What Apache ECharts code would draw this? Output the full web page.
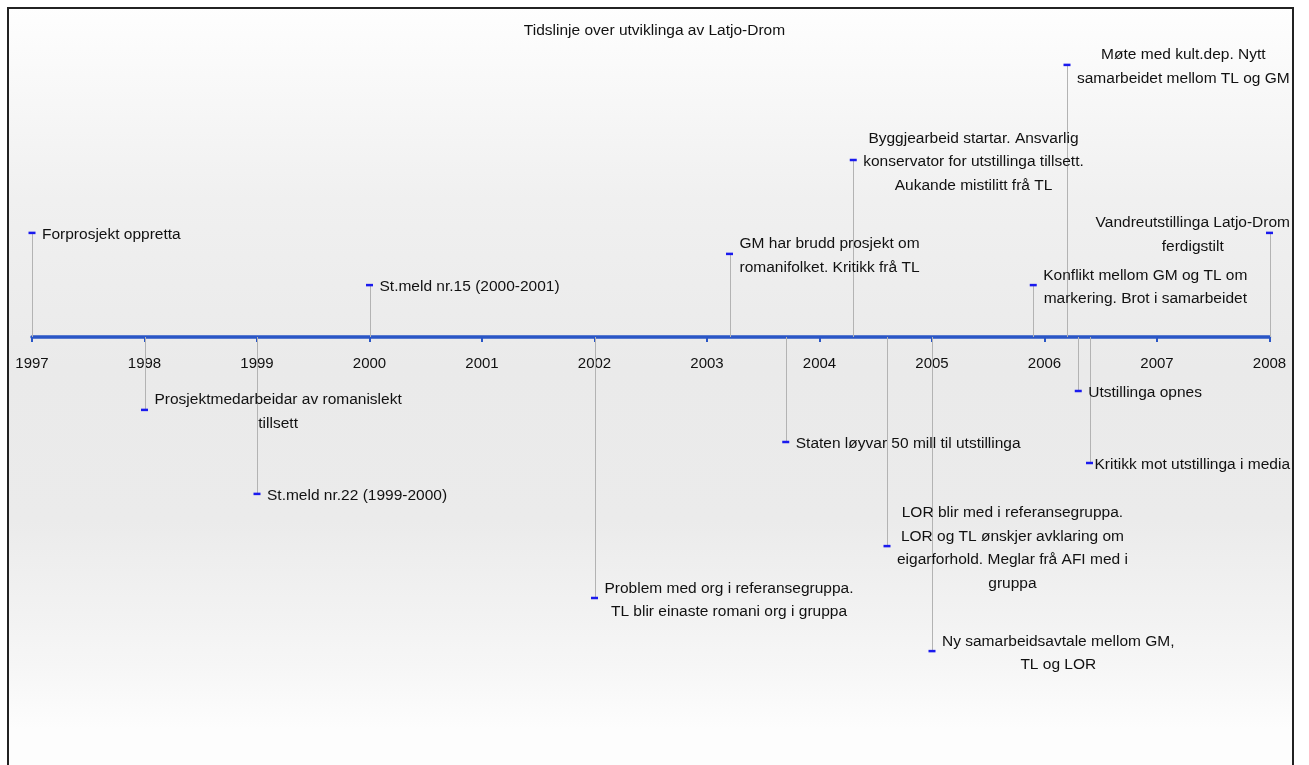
<!DOCTYPE html>
<html>
<head>
<meta charset="utf-8">
<script src="https://cdn.jsdelivr.net/npm/echarts@6/dist/echarts.min.js"></script>
<style>
  html, body { margin: 0; padding: 0; background: #fff; }
  #chart { width: 1309px; height: 765px; }
</style>
</head>
<body>
<div id="chart"></div>
<script>
// tick labels on the time line
var years = ['1997', '1998', '1999', '2000', '2001', '2002', '2003', '2004', '2005', '2006', '2007', '2008']

// when each event happened (decimal year)
var eventDates = [1997.0, 1998.0, 1999.0, 2000.0, 2002.0, 2003.2, 2003.7, 2004.3, 2004.6, 2005.0, 2005.9, 2006.2, 2006.3, 2006.4, 2008.0]

// how high the marker sits above (+) or below (-) the line
var eventHeights = [3.47, -2.43, -5.23, 1.73, -8.7, 2.77, -3.5, 5.9, -6.97, -10.47, 1.73, 9.07, -1.8, -4.2, 3.47]

var eventTexts = [
  'Forprosjekt oppretta',
  'Prosjektmedarbeidar av romanislekt\ntillsett',
  'St.meld nr.22 (1999-2000)',
  'St.meld nr.15 (2000-2001)',
  'Problem med org i referansegruppa.\nTL blir einaste romani org i gruppa',
  'GM har brudd prosjekt om\nromanifolket. Kritikk frå TL',
  'Staten løyvar 50 mill til utstillinga',
  'Byggjearbeid startar. Ansvarlig\nkonservator for utstillinga tillsett.\nAukande mistilitt frå TL',
  'LOR blir med i referansegruppa.\nLOR og TL ønskjer avklaring om\neigarforhold. Meglar frå AFI med i\ngruppa',
  'Ny samarbeidsavtale mellom GM,\nTL og LOR',
  'Konflikt mellom GM og TL om\nmarkering. Brot i samarbeidet',
  'Møte med kult.dep. Nytt\nsamarbeidet mellom TL og GM',
  'Utstillinga opnes',
  'Kritikk mot utstillinga i media',
  'Vandreutstillinga Latjo-Drom\nferdigstilt'
]

var FONT = '"Liberation Sans", Arial, sans-serif'
var LABEL_SIZE = 15.5
var BOX_RIGHT = 1290

var measure = document.createElement('canvas').getContext('2d')
measure.font = LABEL_SIZE + 'px ' + FONT

var seriesData = eventDates.map(function (d, i) {
  return [d, eventHeights[i], i]
})

var myChart = echarts.init(document.getElementById('chart'))

function renderEvent (params, api) {
  var x = api.value(0)
  var y = api.value(1)
  var text = eventTexts[api.value(2)]
  var base = api.coord([x, 0])
  var pt = api.coord([x, y])
  var lines = text.split('\n')
  var w = 0
  lines.forEach(function (l) { w = Math.max(w, measure.measureText(l).width) })
  // keep the label inside the frame, like the original does at 2008
  var cx = Math.min(pt[0] + 10 + w / 2, BOX_RIGHT - w / 2)
  return {
    type: 'group',
    children: [
      {
        type: 'line',
        shape: { x1: Math.round(base[0]) + 0.5, y1: base[1], x2: Math.round(pt[0]) + 0.5, y2: pt[1] },
        style: { stroke: '#b3b3b3', lineWidth: 1 },
        z2: 1
      },
      {
        type: 'rect',
        shape: { x: pt[0] - 3.5, y: pt[1] - 1.25, width: 7, height: 2.5 },
        style: { fill: '#1a1aee' },
        z2: 2
      },
      {
        type: 'text',
        x: cx,
        y: pt[1] + 2,
        style: {
          text: text,
          fill: '#111',
          font: LABEL_SIZE + 'px ' + FONT,
          align: 'center',
          verticalAlign: 'middle',
          lineHeight: 23.5
        },
        z2: 3
      }
    ]
  }
}

myChart.setOption({
  animation: false,
  title: {
    text: 'Tidslinje over utviklinga av Latjo-Drom',
    left: 'center',
    top: 18,
    textStyle: { fontFamily: FONT, fontSize: 15.5, fontWeight: 'normal', color: '#111' }
  },
  graphic: [
    {
      type: 'rect',
      z: -10,
      shape: { x: 8, y: 8, width: 1285, height: 800 },
      style: {
        fill: new echarts.graphic.LinearGradient(0, 0, 0, 1, [
          { offset: 0, color: '#fefefe' },
          { offset: 0.24, color: '#f0f0f0' },
          { offset: 0.45, color: '#eaeaea' },
          { offset: 0.64, color: '#ebebeb' },
          { offset: 0.82, color: '#f6f6f6' },
          { offset: 0.9, color: '#fdfdfd' },
          { offset: 1, color: '#fdfdfd' }
        ]),
        stroke: '#222',
        lineWidth: 2
      }
    }
  ],
  grid: { left: 32, right: 39.5, top: 37, bottom: 98 },
  xAxis: {
    type: 'value',
    min: 1997,
    max: 2008,
    interval: 1,
    position: 'bottom',
    offset: -330,
    axisLine: { onZero: false, lineStyle: { color: '#2a56c6', width: 3.5 } },
    axisTick: { show: true, length: 5, lineStyle: { color: '#2a56c6', width: 2 } },
    axisLabel: {
      margin: 19,
      fontFamily: FONT,
      fontSize: 15,
      color: '#111',
      formatter: function (v) { return years[Math.round(v - 1997)] }
    },
    splitLine: { show: false }
  },
  yAxis: {
    type: 'value',
    min: -11,
    max: 10,
    show: false
  },
  series: [
    {
      type: 'custom',
      renderItem: renderEvent,
      data: seriesData,
      clip: false
    }
  ]
})
</script>
</body>
</html>
